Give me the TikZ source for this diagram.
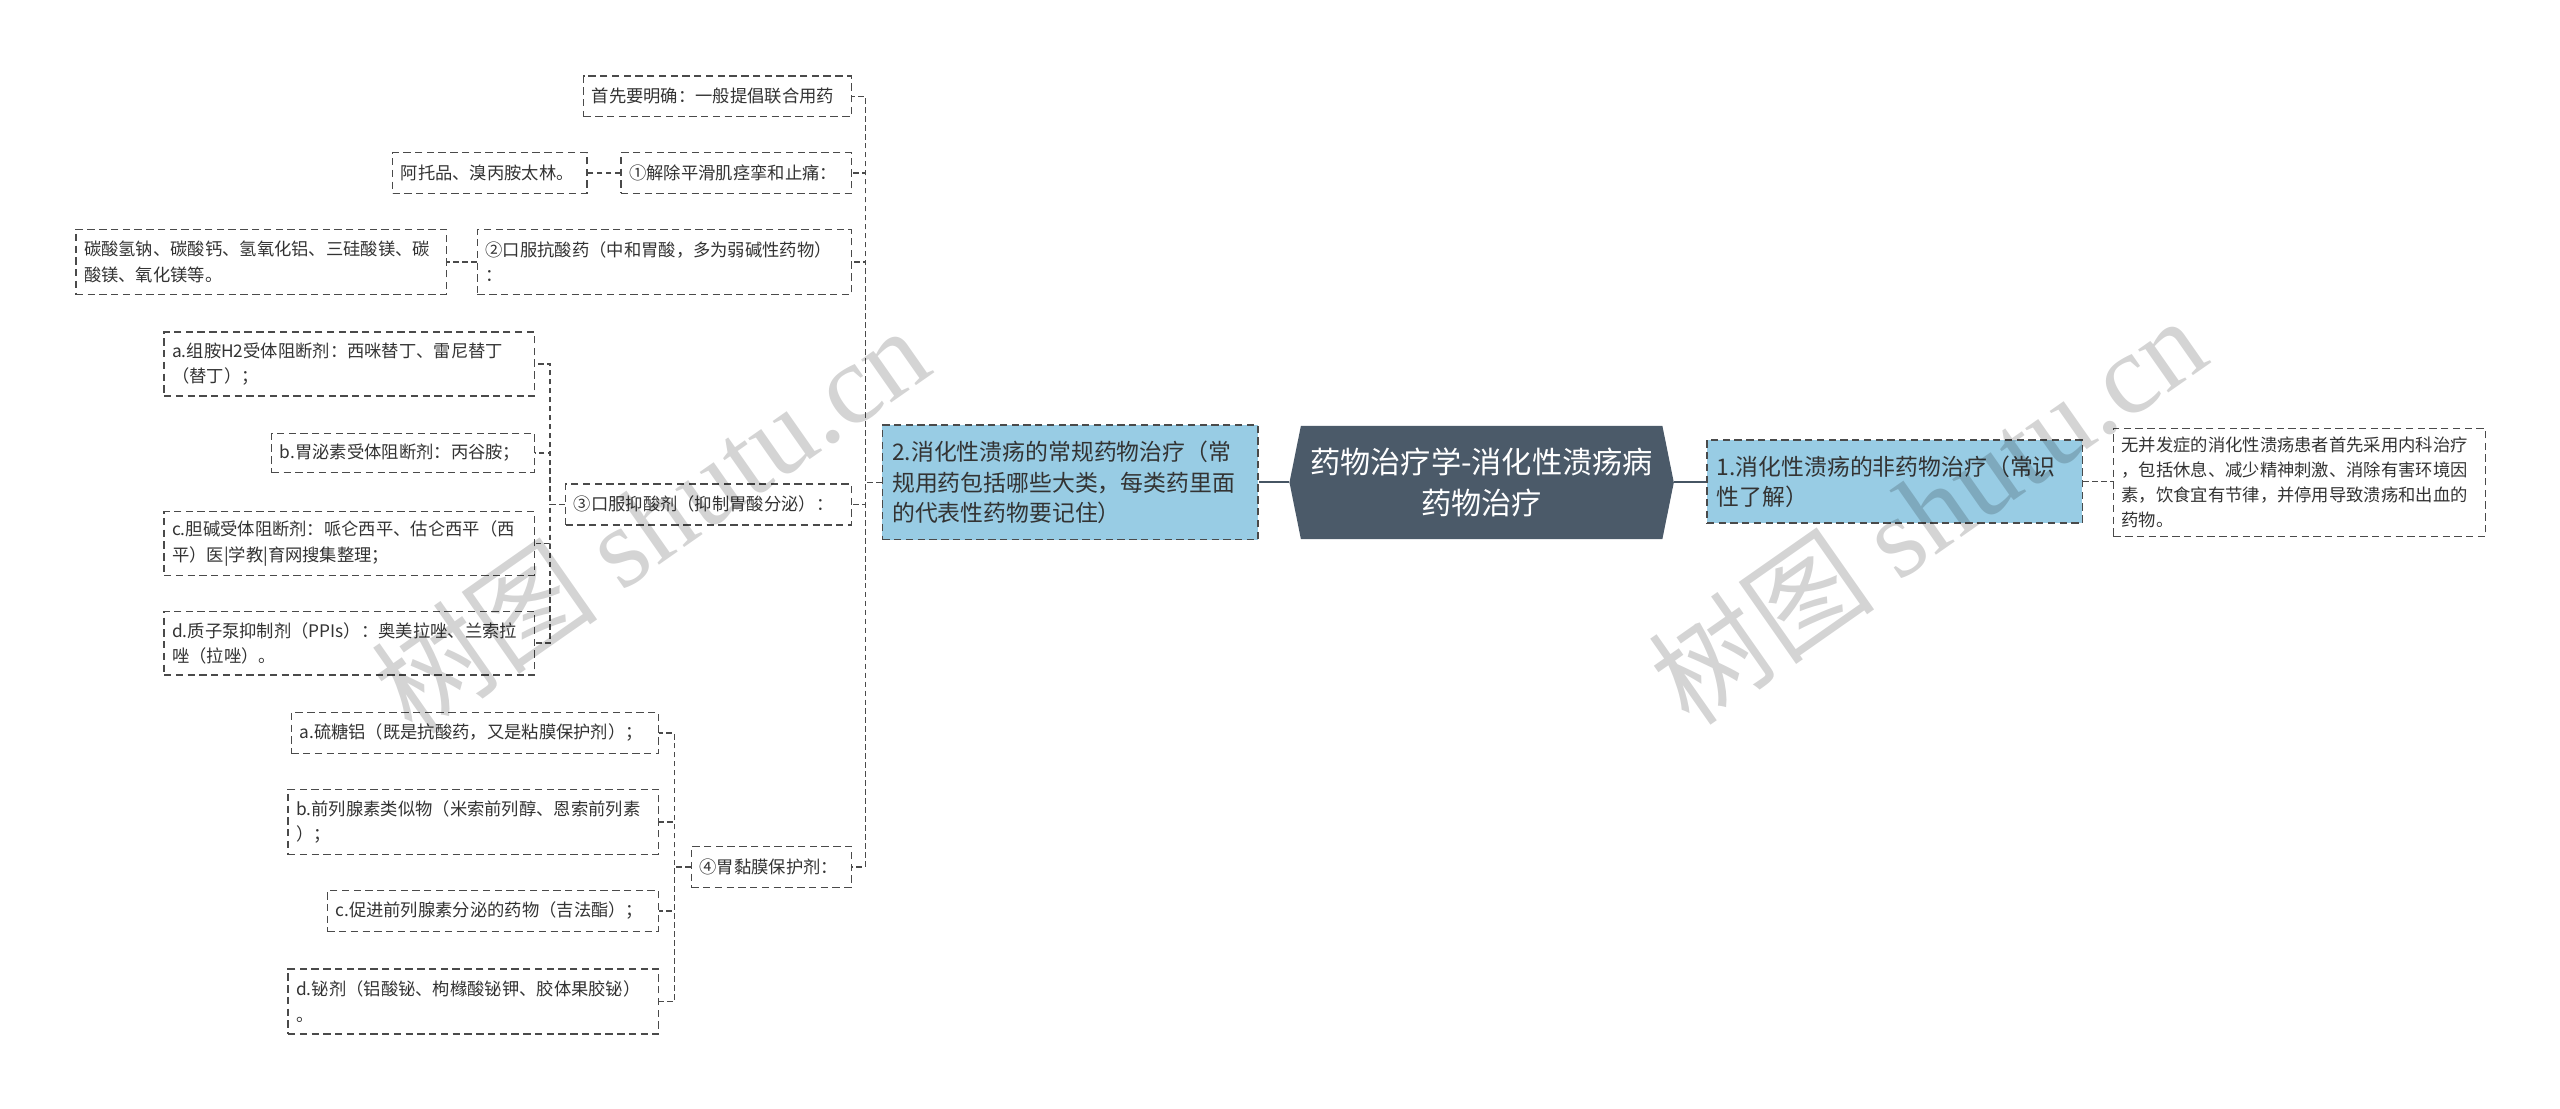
\documentclass[tikz,border=0pt]{standalone}
\usepackage{fontspec}
\setmainfont{Noto Sans CJK SC}
\newfontfamily\wmserif{Liberation Serif}
\usetikzlibrary{backgrounds}
\definecolor{lineC}{HTML}{4A4A4A}
\definecolor{txtC}{HTML}{333333}
\definecolor{blueF}{HTML}{98CCE4}
\definecolor{darkF}{HTML}{4B5A69}
\definecolor{mainL}{HTML}{465563}
\begin{document}
\begin{tikzpicture}[x=1pt,y=-1pt,
  sbox/.style={draw=lineC, line width=0.9pt, dash pattern=on 4.5pt off 2.7pt, fill=white, text=txtC,
    inner xsep=5pt, inner ysep=0pt, align=left, anchor=north west, font=\fontsize{10.6}{15.5}\selectfont},
  bigbox/.style={sbox, fill=blueF, inner xsep=6pt, font=\fontsize{14}{18.5}\selectfont},
  conn/.style={draw=lineC, line width=0.9pt, dash pattern=on 3.5pt off 2pt},
  mainconn/.style={draw=mainL, line width=1.2pt},
  wm/.style={text=black, text opacity=0.17, rotate=35, font=\fontsize{70}{70}\selectfont}
]
\useasboundingbox (0,0) rectangle (1568,679);

% center
\node[inner sep=0pt, minimum width=221pt, minimum height=69pt, text width=220pt, align=center,
  text=white, font=\fontsize{18.5}{25.5}\selectfont] (c) at (907.5,295.5) {药物治疗学-消化性溃疡病\\药物治疗};
\coordinate (cL) at ([xshift=-7pt]c.west);
\coordinate (cR) at ([xshift=7pt]c.east);
\begin{scope}[on background layer]
\fill[white] (0,0) rectangle (1568,679);
\fill[darkF] (c.north west) -- (c.north east) -- (cR) -- (c.south east) -- (c.south west) -- (cL) -- cycle;
\end{scope}

% first level
\node[bigbox, text width=218pt, minimum height=70pt] (n2) at (540,260) {2.消化性溃疡的常规药物治疗（常\\规用药包括哪些大类，每类药里面\\的代表性药物要记住）};
\node[bigbox, text width=218pt, minimum height=51pt] (n1) at (1045,269) {1.消化性溃疡的非药物治疗（常识\\性了解）};
\node[sbox, text width=218pt, minimum height=66pt] (r) at (1294,262) {无并发症的消化性溃疡患者首先采用内科治疗\\，包括休息、减少精神刺激、消除有害环境因\\素，饮食宜有节律，并停用导致溃疡和出血的\\药物。};

% second level (left)
\node[sbox, text width=154pt, minimum height=25pt] (s1) at (357,46) {首先要明确：一般提倡联合用药};
\node[sbox, text width=131pt, minimum height=25pt] (s2) at (380,93) {①解除平滑肌痉挛和止痛：};
\node[sbox, text width=109pt, minimum height=25pt] (s3) at (240,93) {阿托品、溴丙胺太林。};
\node[sbox, text width=219pt, minimum height=40pt] (s4) at (292,140) {②口服抗酸药（中和胃酸，多为弱碱性药物）\\：};
\node[sbox, text width=217pt, minimum height=40pt] (s5) at (46,140) {碳酸氢钠、碳酸钙、氢氧化铝、三硅酸镁、碳\\酸镁、氧化镁等。};
\node[sbox, text width=165pt, minimum height=25pt] (s6) at (346,296) {③口服抑酸剂（抑制胃酸分泌）：};
\node[sbox, text width=88pt, minimum height=25pt] (s7) at (423,518) {④胃黏膜保护剂：};

% children of 3
\node[sbox, text width=217pt, minimum height=39pt] (a1) at (100,203) {a.组胺H2受体阻断剂：西咪替丁、雷尼替丁\\（替丁）；};
\node[sbox, text width=151pt, minimum height=24pt] (a2) at (166,265) {b.胃泌素受体阻断剂：丙谷胺；};
\node[sbox, text width=217pt, minimum height=39pt] (a3) at (100,313) {c.胆碱受体阻断剂：哌仑西平、估仑西平（西\\平）医|学教|育网搜集整理；};
\node[sbox, text width=217pt, minimum height=39pt] (a4) at (100,374) {d.质子泵抑制剂（PPIs）：奥美拉唑、兰索拉\\唑（拉唑）。};

% children of 4
\node[sbox, text width=215pt, minimum height=25pt] (b1) at (178,436) {a.硫糖铝（既是抗酸药，又是粘膜保护剂）；};
\node[sbox, text width=217pt, minimum height=40pt] (b2) at (176,483) {b.前列腺素类似物（米索前列醇、恩索前列素\\）；};
\node[sbox, text width=193pt, minimum height=25pt] (b3) at (200,545) {c.促进前列腺素分泌的药物（吉法酯）；};
\node[sbox, text width=217pt, minimum height=40pt] (b4) at (176,593) {d.铋剂（铝酸铋、枸橼酸铋钾、胶体果胶铋）\\。};

% connectors
\draw[mainconn] (cL) -- (n2.east |- cL);
\draw[mainconn] (cR) -- (n1.west |- cR);
\draw[conn] (n1.east) -- (n1.east -| r.west);

\foreach \ch in {s1,s2,s4,s6,s7}
  \draw[conn] (n2.west) -- ++(-10,0) |- (\ch.east);
\draw[conn] (s2.west) -- (s3.east);
\draw[conn] (s4.west) -- (s5.east);
\foreach \ch in {a1,a2,a3,a4}
  \draw[conn] (s6.west) -- ++(-9,0) |- (\ch.east);
\foreach \ch in {b1,b2,b3,b4}
  \draw[conn] (s7.west) -- ++(-10,0) |- (\ch.east);

% watermarks
\node[wm] (wm1) at (398,318) {树图 {\wmserif shutu.cn}};
\node[wm] (wm2) at (1180,312) {树图 {\wmserif shutu.cn}};
\end{tikzpicture}
\end{document}
